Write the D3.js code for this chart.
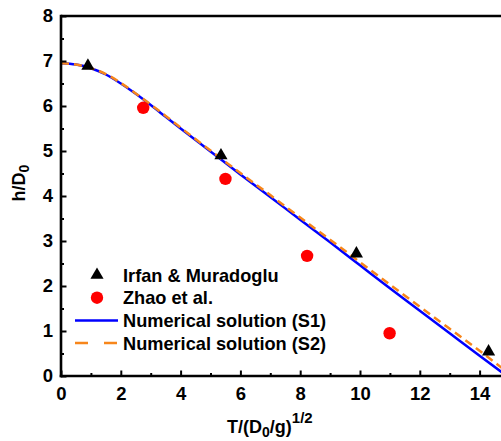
<!DOCTYPE html>
<html>
<head>
<meta charset="utf-8">
<script src="https://cdn.jsdelivr.net/npm/d3@7"></script>
<style>
  body { margin: 0; background: #fff; }
  svg text { font-family: "Liberation Sans", Arial, sans-serif; font-weight: bold; fill: #000; }
</style>
</head>
<body>
<div id="chart"></div>
<script>
// Data
var irfanT = [0.9, 5.35, 9.88, 14.3];
var irfanH = [6.89, 4.9, 2.72, 0.54];

var zhaoT = [2.75, 5.5, 8.23, 10.99];
var zhaoH = [5.96, 4.38, 2.67, 0.95];

var s1T = [0, 0.5, 1, 1.5, 2, 2.5, 3, 3.5, 4, 5, 6, 7, 8, 9, 10, 11, 12, 13, 14, 14.75];
var s1H = [6.95, 6.92, 6.84, 6.70, 6.50, 6.27, 6.02, 5.76, 5.50, 4.99, 4.48, 3.98, 3.47, 2.97, 2.46, 1.95, 1.45, 0.95, 0.45, 0.08];

var s2T = [0, 0.5, 1, 1.5, 2, 2.5, 3, 3.5, 4, 5, 6, 7, 8, 9, 10, 11, 12, 13, 14, 14.8];
var s2H = [6.95, 6.92, 6.84, 6.71, 6.51, 6.28, 6.03, 5.78, 5.52, 5.01, 4.51, 4.02, 3.52, 3.03, 2.53, 2.03, 1.54, 1.05, 0.56, 0.15];

var xTicks = [0, 2, 4, 6, 8, 10, 12, 14];
var yTicks = [0, 1, 2, 3, 4, 5, 6, 7, 8];
var legendLabels = ["Irfan & Muradoglu", "Zhao et al.", "Numerical solution (S1)", "Numerical solution (S2)"];

function chart_Draw(ele) {
    var w = 501, h = 441;
    var left = 61, top = 16, bottom = 376;

    var svg = d3.select(ele).append("svg")
        .attr("width", w)
        .attr("height", h);

    var x = d3.scaleLinear().domain([0, 14.8]).range([left, left + 14.8 * 29.9]);
    var y = d3.scaleLinear().domain([0, 8]).range([bottom, top]);

    svg.append("clipPath").attr("id", "clip")
        .append("rect").attr("x", left).attr("y", top).attr("width", w - left).attr("height", bottom - top);

    // Curves
    var line = d3.line()
        .x(function(d) { return x(d[0]); })
        .y(function(d) { return y(d[1]); })
        .curve(d3.curveMonotoneX);

    var plot = svg.append("g").attr("clip-path", "url(#clip)");

    plot.append("path")
        .datum(d3.zip(s1T, s1H))
        .attr("d", line)
        .attr("fill", "none")
        .attr("stroke", "#0000ff")
        .attr("stroke-width", 2.5);

    plot.append("path")
        .datum(d3.zip(s2T, s2H))
        .attr("d", line)
        .attr("fill", "none")
        .attr("stroke", "#f7861b")
        .attr("stroke-width", 2.5)
        .attr("stroke-dasharray", "8,5");

    // Markers
    svg.selectAll(".tri")
        .data(d3.zip(irfanT, irfanH))
        .enter()
        .append("path")
        .attr("class", "tri")
        .attr("d", d3.symbol().type(d3.symbolTriangle).size(75))
        .attr("transform", function(d) { return "translate(" + x(d[0]) + "," + y(d[1]) + ")"; })
        .attr("fill", "#000");

    svg.selectAll(".dot")
        .data(d3.zip(zhaoT, zhaoH))
        .enter()
        .append("circle")
        .attr("class", "dot")
        .attr("cx", function(d) { return x(d[0]); })
        .attr("cy", function(d) { return y(d[1]); })
        .attr("r", 6.2)
        .attr("fill", "#ff0000");

    // Axes
    var xMinor = svg.append("g").attr("transform", "translate(0," + bottom + ")")
        .call(d3.axisBottom(x).tickValues(d3.range(1, 15, 2)).tickSize(-3).tickFormat(""));
    var yMinor = svg.append("g").attr("transform", "translate(" + left + ",0)")
        .call(d3.axisLeft(y).tickValues(d3.range(0.5, 8, 1)).tickSize(-3).tickFormat(""));

    var xAxis = svg.append("g").attr("transform", "translate(0," + bottom + ")")
        .call(d3.axisBottom(x).tickValues(xTicks).tickSize(-5.5).tickPadding(11).tickFormat(d3.format("d")));
    var yAxis = svg.append("g").attr("transform", "translate(" + left + ",0)")
        .call(d3.axisLeft(y).tickValues(yTicks).tickSize(-5.5).tickPadding(8).tickFormat(d3.format("d")));

    [xMinor, yMinor, xAxis, yAxis].forEach(function(g) {
        g.select(".domain").remove();
        g.selectAll(".tick line").attr("stroke", "#000").attr("stroke-width", 2);
        g.selectAll("text").attr("font-size", "18.5px").attr("font-family", null);
    });

    // Frame
    svg.append("line").attr("x1", left).attr("x2", w).attr("y1", top).attr("y2", top)
        .attr("stroke", "#000").attr("stroke-width", 2.6);
    svg.append("line").attr("x1", left).attr("x2", left).attr("y1", top - 1.3).attr("y2", bottom + 1.3)
        .attr("stroke", "#000").attr("stroke-width", 2.6);
    svg.append("line").attr("x1", left - 1.3).attr("x2", w).attr("y1", bottom).attr("y2", bottom)
        .attr("stroke", "#000").attr("stroke-width", 2.6);

    // Axis titles
    var xt = svg.append("text")
        .attr("x", 227).attr("y", 433)
        .attr("font-size", "18px");
    xt.append("tspan").text("T/(D");
    xt.append("tspan").attr("dy", 4).attr("font-size", "14px").text("0");
    xt.append("tspan").attr("dy", -4).text("/g)");
    xt.append("tspan").attr("dy", -10).attr("font-size", "15px").text("1/2");

    var yt = svg.append("text")
        .attr("transform", "translate(25,183) rotate(-90)")
        .attr("text-anchor", "middle")
        .attr("font-size", "18px");
    yt.append("tspan").text("h/D");
    yt.append("tspan").attr("dy", 4).attr("font-size", "14px").text("0");

    // Legend
    var ly = 275, ldy = 22.7;
    var legend = svg.selectAll(".legend")
        .data(legendLabels)
        .enter()
        .append("g")
        .attr("class", "legend")
        .attr("transform", function(d, i) { return "translate(0," + (ly + ldy * i) + ")"; });

    legend.append("text")
        .attr("x", 123)
        .attr("y", 6.5)
        .attr("font-size", "18.2px")
        .text(function(d) { return d; });

    legend.filter(function(d, i) { return i === 0; })
        .append("path")
        .attr("d", d3.symbol().type(d3.symbolTriangle).size(75))
        .attr("transform", "translate(97,0)")
        .attr("fill", "#000");

    legend.filter(function(d, i) { return i === 1; })
        .append("circle")
        .attr("cx", 97).attr("cy", 0).attr("r", 6.2)
        .attr("fill", "#ff0000");

    legend.filter(function(d, i) { return i === 2; })
        .append("line")
        .attr("x1", 75).attr("x2", 118).attr("y1", 0).attr("y2", 0)
        .attr("stroke", "#0000ff").attr("stroke-width", 2.5);

    legend.filter(function(d, i) { return i === 3; })
        .append("line")
        .attr("x1", 75).attr("x2", 118).attr("y1", 0).attr("y2", 0)
        .attr("stroke", "#f7861b").attr("stroke-width", 2.5)
        .attr("stroke-dasharray", "13,16");
}

chart_Draw("#chart");
</script>
</body>
</html>
